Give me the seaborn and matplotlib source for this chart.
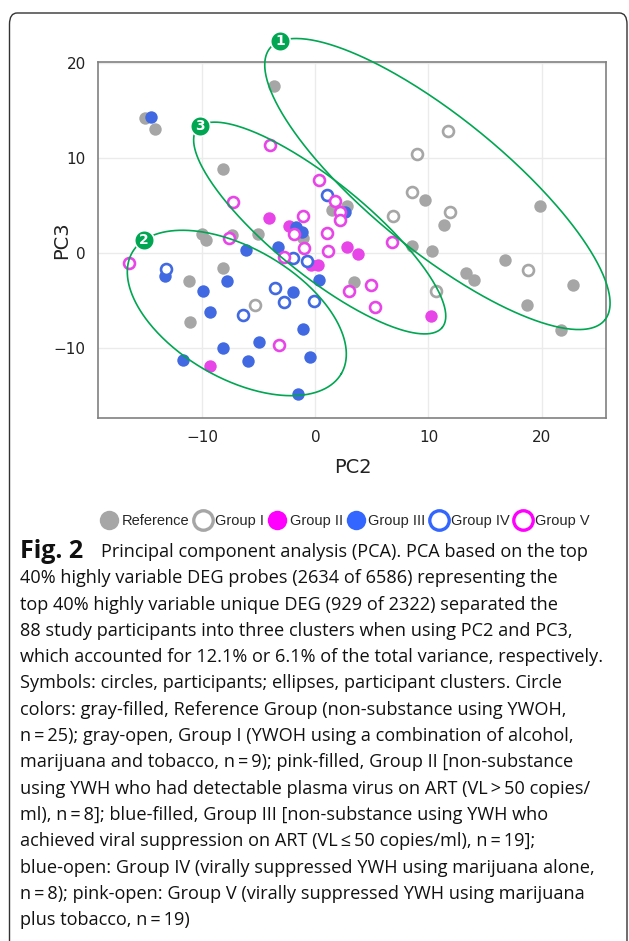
import numpy as np
import pandas as pd
import matplotlib
matplotlib.use("Agg")
import matplotlib.pyplot as plt
import seaborn as sns
from matplotlib.lines import Line2D
from matplotlib.patches import FancyBboxPatch

# PC2 / PC3 scores
ref_x = [-15.1, -14.2, -3.7, -8.2, -10.0, -9.7, -7.4, -5.1, -1.1, -8.2, -11.2, -11.1, 1.5,
         2.8, 9.7, 11.4, 8.5, 10.3, 3.4, 13.3, 14.0, 16.8, 19.9, 22.8, 18.7, 21.7]
ref_y = [14.2, 13.1, 17.6, 8.9, 2.0, 1.4, 1.9, 2.0, 1.6, -1.5, -2.9, -7.2, 4.6,
         5.0, 5.6, 3.0, 0.8, 0.2, -3.0, -2.1, -2.8, -0.7, 5.0, -3.3, -5.4, -8.1]
g1_x = [11.7, 9.0, 8.5, 11.9, 6.9, 18.8, 10.7, -5.3]
g1_y = [12.9, 10.5, 6.5, 4.3, 3.9, -1.8, -4.0, -5.4]
g2_x = [-4.1, -2.3, -0.4, 0.2, 2.8, 3.8, 10.2, -9.3]
g2_y = [3.7, 2.9, -1.2, -1.2, 0.7, -0.1, -6.6, -11.9]
g3_x = [-14.5, -1.7, -1.2, 2.6, -6.1, -3.3, 0.3, -13.3, -9.9, -7.8, -9.3, -2.0, -1.1,
        -5.0, -8.2, -11.7, -6.0, -0.5, -1.5]
g3_y = [14.3, 2.8, 2.2, 4.3, 0.3, 0.7, -2.8, -2.4, -4.0, -2.9, -6.2, -4.1, -8.0,
        -9.3, -10.0, -11.2, -11.3, -10.9, -14.8]
g4_x = [1.0, -2.0, -0.7, -13.2, -3.6, -2.8, -0.1, -6.4]
g4_y = [6.1, -0.5, -0.8, -1.6, -3.7, -5.1, -5.0, -6.5]
g5_x = [-4.0, -7.3, 0.3, 1.7, 2.2, 2.2, -1.1, -1.9, -7.6, -1.0, -2.8, 1.0, 1.1, 6.8,
        4.9, 3.0, 5.3, -3.2, -16.5]
g5_y = [11.4, 5.4, 7.7, 5.5, 4.3, 3.5, 3.9, 2.0, 1.6, 0.6, -0.4, 2.1, 0.2, 1.2,
        -3.3, -4.0, -5.6, -9.7, -1.0]

group_names = ["Reference", "Group I", "Group II", "Group III", "Group IV", "Group V"]
group_xs = [ref_x, g1_x, g2_x, g3_x, g4_x, g5_x]
group_ys = [ref_y, g1_y, g2_y, g3_y, g4_y, g5_y]
group_filled = [True, False, True, True, False, False]
plot_colors = ["#a6a6a6", "#a6a6a6", "#e845e8", "#4169e1", "#4169e1", "#e845e8"]
legend_colors = ["#a6a6a6", "#a6a6a6", "#ff00ff", "#3366ff", "#3366ff", "#ff00ff"]

# cluster ellipses: centre, two semi-axis vectors (data units), label
ell_labels = ["1", "2", "3"]
ell_centers = [(10.79, 7.29), (-6.95, -6.28), (0.38, 2.66)]
ell_u = [(14.81, -14.30), (9.25, -6.37), (10.84, -10.46)]
ell_v = [(-3.72, -5.48), (-2.87, -5.93), (-2.61, -3.84)]
ell_label_t = [np.pi + 0.18, np.pi + 0.26, np.pi + 0.08]

caption_lines = [
    "40% highly variable DEG probes (2634 of 6586) representing the",
    "top 40% highly variable unique DEG (929 of 2322) separated the",
    "88 study participants into three clusters when using PC2 and PC3,",
    "which accounted for 12.1% or 6.1% of the total variance, respectively.",
    "Symbols: circles, participants; ellipses, participant clusters. Circle",
    "colors: gray-filled, Reference Group (non-substance using YWOH,",
    "n\u2009=\u200925); gray-open, Group I (YWOH using a combination of alcohol,",
    "marijuana and tobacco, n\u2009=\u20099); pink-filled, Group II [non-substance",
    "using YWH who had detectable plasma virus on ART (VL\u2009>\u200950 copies/",
    "ml), n\u2009=\u20098]; blue-filled, Group III [non-substance using YWH who",
    "achieved viral suppression on ART (VL\u2009\u2264\u200950 copies/ml), n\u2009=\u200919];",
    "blue-open: Group IV (virally suppressed YWH using marijuana alone,",
    "n\u2009=\u20098); pink-open: Group V (virally suppressed YWH using marijuana",
    "plus tobacco, n\u2009=\u200919)",
]

sns.set_style("white")
plt.rcParams["font.family"] = ["DejaVu Sans"]

W, H = 629, 941
fig = plt.figure(figsize=(W / 100, H / 100), dpi=100)
ax = fig.add_axes([98.3 / W, 1 - 417.7 / H, (606 - 98.3) / W, (417.7 - 62.3) / H])

green = "#00a651"
for name, xs, ys, filled, col in zip(group_names, group_xs, group_ys, group_filled, plot_colors):
    df = pd.DataFrame({"PC2": xs, "PC3": ys})
    if filled:
        sns.scatterplot(data=df, x="PC2", y="PC3", ax=ax, s=80, color=col,
                        edgecolor=col, linewidth=0, zorder=3)
    else:
        sns.scatterplot(data=df, x="PC2", y="PC3", ax=ax, s=62, facecolor="white",
                        edgecolor=col, linewidth=1.9, zorder=3)

t = np.linspace(0, 2 * np.pi, 400)
for lab, c, u, v, tl in zip(ell_labels, ell_centers, ell_u, ell_v, ell_label_t):
    ex = c[0] + u[0] * np.cos(t) + v[0] * np.sin(t)
    ey = c[1] + u[1] * np.cos(t) + v[1] * np.sin(t)
    ax.plot(ex, ey, color=green, lw=1.2, clip_on=False, zorder=4)
    lx = c[0] + u[0] * np.cos(tl) + v[0] * np.sin(tl)
    ly = c[1] + u[1] * np.cos(tl) + v[1] * np.sin(tl)
    ax.scatter([lx], [ly], s=200, color=green, edgecolor="white", linewidth=1.2,
               zorder=5, clip_on=False)
    ax.text(lx, ly, lab, color="white", fontsize=10, fontweight="bold",
            ha="center", va="center", zorder=6, clip_on=False)

ax.set_xlim(-19.2, 25.7)
ax.set_ylim(-17.3, 20.1)
ax.set_xticks([-10, 0, 10, 20])
ax.set_yticks([-10, 0, 10, 20])
ax.grid(True, color="#ebebeb", lw=1.0, zorder=0)
ax.set_axisbelow(True)
for sp in ax.spines.values():
    sp.set_color("#808080")
    sp.set_linewidth(1.2)
ax.tick_params(axis="both", direction="out", length=5, width=1.0, color="#808080",
               labelsize=11, labelcolor="#222222", pad=4)
ax.set_xlabel("PC2", fontsize=14, color="#222222")
ax.set_ylabel("PC3", fontsize=14, color="#222222")
ax.xaxis.set_label_coords(0.502, -0.139)
ax.yaxis.set_label_coords(-0.0715, 0.5)
ax.xaxis.label.set_va("center")
ax.yaxis.label.set_va("center")

handles = []
for name, filled, col in zip(group_names, group_filled, legend_colors):
    handles.append(Line2D([], [], ls="", marker="o", markersize=14,
                          markerfacecolor=col if filled else "white",
                          markeredgecolor=col, markeredgewidth=0 if filled else 2.4))
fig.legend(handles, group_names, loc="center", bbox_to_anchor=(346 / W, 1 - 521 / H),
           ncol=6, frameon=False, handlelength=1.0, handletextpad=0.35,
           columnspacing=0.4, prop={"family": ["Liberation Sans"], "size": 10.5})

cap_font = ["Open Sans", "DejaVu Sans"]
x0 = 20 / W
y_first = 552
step = 26.3
fig.text(x0, 1 - y_first / H, "Fig. 2", fontsize=18, fontweight="bold",
         family=cap_font, va="center", ha="left", color="#111111")
fig.text(101 / W, 1 - y_first / H, "Principal component analysis (PCA). PCA based on the top",
         fontsize=13.1, family=cap_font, va="center", ha="left", color="#111111")
for i, line in enumerate(caption_lines):
    fig.text(x0, 1 - (y_first + step * (i + 1)) / H, line, fontsize=13.1,
             family=cap_font, va="center", ha="left", color="#111111")

box = FancyBboxPatch((9.5 / W, -0.05), (627 - 9.5) / W, (941 - 13) / H + 0.05,
                     boxstyle="round,pad=0,rounding_size=0.012",
                     transform=fig.transFigure, fill=False, ec="#333333", lw=1.0)
fig.patches.append(box)

fig.savefig("out.png", dpi=100)
